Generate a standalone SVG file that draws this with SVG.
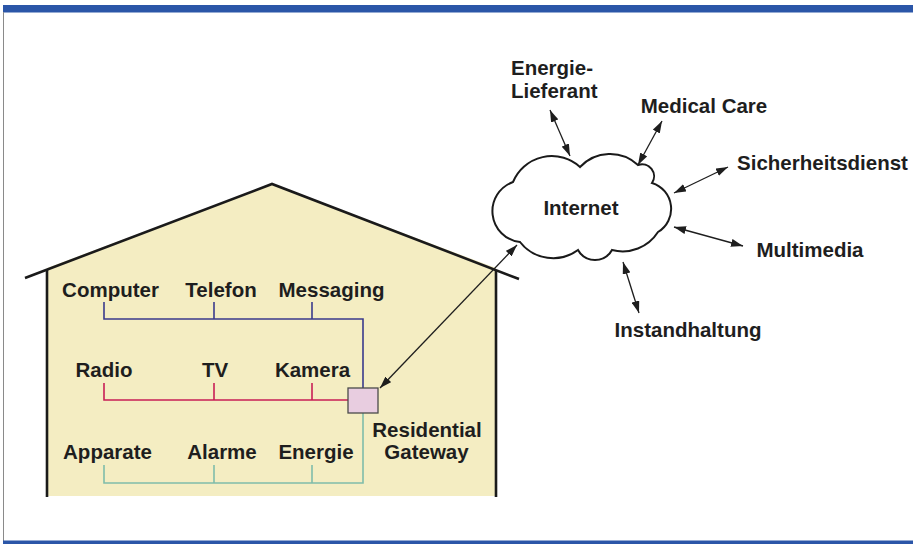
<svg xmlns="http://www.w3.org/2000/svg" width="913" height="544" viewBox="0 0 913 544">
<style>
.t{font-family:"Liberation Sans",Arial,sans-serif;font-weight:bold;font-size:20.5px;fill:#1e1e1e}
.m{text-anchor:middle}
.arr{stroke:#1e1e1e;stroke-width:1.3;fill:none;marker-start:url(#ah);marker-end:url(#ah)}
.house{stroke:#1a1a1a;stroke-width:2.6;fill:none;stroke-linecap:butt}
.blue{stroke:#3a3a8c;stroke-width:1.6;fill:none}
.red{stroke:#c81e55;stroke-width:1.6;fill:none}
.green{stroke:#7fbcaa;stroke-width:1.6;fill:none}
</style>
<defs>
<marker id="ah" viewBox="0 0 12 8" refX="12" refY="4" markerWidth="12" markerHeight="8" markerUnits="userSpaceOnUse" orient="auto-start-reverse">
<path d="M0,0 L12,4 L0,8 z" fill="#1e1e1e"/>
</marker>
</defs>
<rect width="913" height="544" fill="#ffffff"/>
<g id="frame">
<rect x="3" y="5" width="910" height="7.5" fill="#2b56a8"/>
<line x1="3.5" y1="12" x2="3.5" y2="541" stroke="#8a8a8a" stroke-width="1"/>
<rect x="3" y="540.5" width="910" height="3.5" fill="#2b56a8"/>
</g>
<g id="house">
<polygon points="47,268 272,184 496,268 496,496 47,496" fill="#f4edc2"/>
<polyline class="house" points="25,278 272,184 519,279"/>
<line class="house" x1="47" y1="270" x2="47" y2="497"/>
<line class="house" x1="496" y1="270" x2="496" y2="497"/>
</g>
<g id="connectors">
<polyline class="blue" points="104,302 104,319 363,319 363,388"/>
<line class="blue" x1="214" y1="302" x2="214" y2="319"/>
<line class="blue" x1="312" y1="302" x2="312" y2="319"/>
<polyline class="red" points="104,383 104,400 348,400"/>
<line class="red" x1="214" y1="383" x2="214" y2="400"/>
<line class="red" x1="312" y1="383" x2="312" y2="400"/>
<polyline class="green" points="363,413 363,483 104,483 104,465"/>
<line class="green" x1="214" y1="465" x2="214" y2="483"/>
<line class="green" x1="312" y1="465" x2="312" y2="483"/>
<line class="arr" x1="517" y1="245" x2="380" y2="388"/>
<line class="arr" x1="550" y1="110" x2="570" y2="156"/>
<line class="arr" x1="662" y1="121" x2="638" y2="165"/>
<line class="arr" x1="728" y1="167" x2="674" y2="193"/>
<line class="arr" x1="674" y1="227" x2="743" y2="246"/>
<line class="arr" x1="623" y1="262" x2="639" y2="313"/>
</g>
<g id="gateway">
<rect x="348" y="388" width="30" height="25" fill="#e8cde0" stroke="#4a4a4a" stroke-width="1.3"/>
<text class="t m" x="427" y="437">Residential</text>
<text class="t m" x="426.5" y="459">Gateway</text>
</g>
<g id="computer"><text class="t m" x="110.5" y="297">Computer</text></g>
<g id="telefon"><text class="t m" x="221" y="297">Telefon</text></g>
<g id="messaging"><text class="t m" x="331.5" y="297">Messaging</text></g>
<g id="radio"><text class="t m" x="104" y="377">Radio</text></g>
<g id="tv"><text class="t m" x="215" y="377">TV</text></g>
<g id="kamera"><text class="t m" x="312.5" y="377">Kamera</text></g>
<g id="apparate"><text class="t m" x="107.5" y="459">Apparate</text></g>
<g id="alarme"><text class="t m" x="222" y="459">Alarme</text></g>
<g id="energie"><text class="t m" x="316" y="459">Energie</text></g>
<g id="internet">
<path d="M513,182 A42,42 0 0 1 580,167 A41,41 0 0 1 638,165 A12,12 0 0 1 652,183 A27,27 0 0 1 658,232 A42,42 0 0 1 612,250 A19.5,19.5 0 0 1 578,250 A42,42 0 0 1 520,242 A31,31 0 0 1 513,182 Z" fill="#ffffff" stroke="#1a1a1a" stroke-width="2"/>
<text class="t m" x="581" y="215">Internet</text>
</g>
<g id="energielieferant"><text class="t" x="511" y="75">Energie-</text><text class="t" x="511" y="98">Lieferant</text></g>
<g id="medicalcare"><text class="t m" x="704" y="113">Medical Care</text></g>
<g id="sicherheitsdienst"><text class="t m" x="822.5" y="170">Sicherheitsdienst</text></g>
<g id="multimedia"><text class="t m" x="810" y="257">Multimedia</text></g>
<g id="instandhaltung"><text class="t m" x="688" y="337">Instandhaltung</text></g>
</svg>
